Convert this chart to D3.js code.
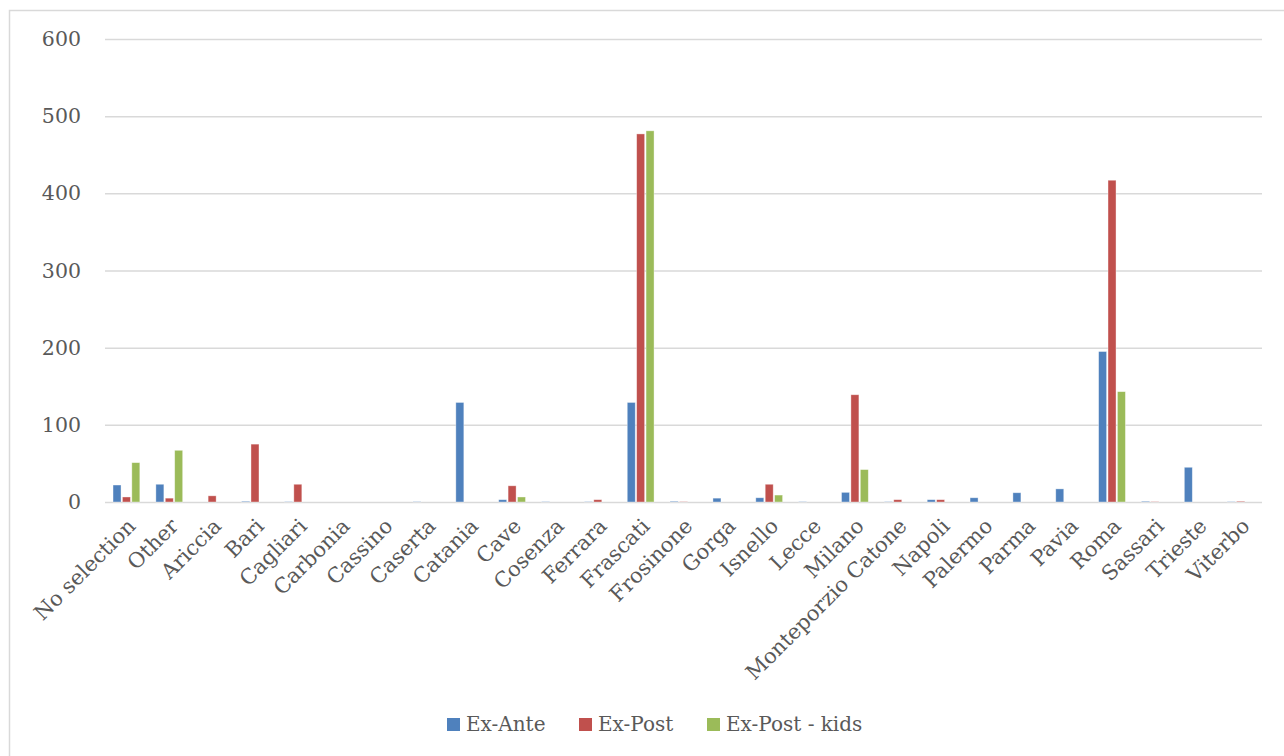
<!DOCTYPE html>
<html>
<head>
<meta charset="utf-8">
<script src="https://cdn.jsdelivr.net/npm/d3@7"></script>
<style>
  html, body { margin: 0; padding: 0; background: #fff; }
  svg { display: block; }
</style>
</head>
<body>
<svg id="chart" width="1284" height="756"></svg>
<script>
const categories = ["No selection","Other","Ariccia","Bari","Cagliari","Carbonia","Cassino","Caserta","Catania","Cave","Cosenza","Ferrara","Frascati","Frosinone","Gorga","Isnello","Lecce","Milano","Monteporzio Catone","Napoli","Palermo","Parma","Pavia","Roma","Sassari","Trieste","Viterbo"];
const seriesNames = ["Ex-Ante","Ex-Post","Ex-Post - kids"];
const exAnte     = [22, 23, 0, 1, 0.5, 0, 0, 0.5, 129, 3, 0.5, 0.5, 129, 1, 5, 5.5, 0.5, 12.5, 0.5, 3, 5.5, 12, 17, 195, 1, 45, 0.5];
const exPost     = [6.5, 5, 8, 75, 23, 0, 0, 0, 0, 21, 0, 3, 477, 0.5, 0, 23, 0, 139, 3, 3, 0, 0, 0, 417, 0.5, 0, 1];
const exPostKids = [51, 67, 0, 0, 0, 0, 0, 0, 0, 6.5, 0, 0, 481, 0, 0, 9, 0, 42, 0, 0, 0, 0, 0, 143, 0, 0, 0];
const yTicks = [0, 100, 200, 300, 400, 500, 600];
const colors = ["#4f81bd", "#c0504d", "#9bbb59"];

(function () {
const series = [exAnte, exPost, exPostKids];
const svg = d3.select("#chart");
const font = "DejaVu Serif";
const textColor = "#595959";

// outer frame
svg.append("path")
  .attr("d", "M9.5,760 L9.5,10.5 L1290,10.5")
  .attr("fill", "none").attr("stroke", "#d9d9d9").attr("stroke-width", 1.5);

const mLeft = 105, mRight = 1262, mTop = 39, mBottom = 502;
const x = d3.scaleBand().domain(categories).range([mLeft, mRight]).paddingInner(0).paddingOuter(0);
const y = d3.scaleLinear().domain([0, 600]).range([mBottom, mTop]);

const step = 9.4, bw = 8;
const xs = d3.scaleBand().domain(seriesNames).range([-step*1.5, step*1.5]);

// gridlines
const yAxis = d3.axisLeft(y).tickValues(yTicks).tickSize(-(mRight - mLeft)).tickPadding(24);
const gy = svg.append("g").attr("transform", `translate(${mLeft},0)`).call(yAxis);
gy.select(".domain").remove();
gy.selectAll(".tick line").attr("stroke", "#d9d9d9").attr("stroke-width", 1.5);
gy.selectAll(".tick text").attr("fill", textColor).style("font-family", font).style("font-size", "20.5px");

// bars
series.forEach((vals, si) => {
  svg.append("g").selectAll("rect").data(vals).join("rect")
    .attr("x", (d, i) => x(categories[i]) + x.bandwidth()/2 + xs(seriesNames[si]) + (step - bw)/2)
    .attr("width", bw)
    .attr("y", d => y(d))
    .attr("height", d => y(0) - y(d))
    .attr("fill", colors[si])
    .attr("stroke", "#ffffff").attr("stroke-opacity", 0.5).attr("stroke-width", 0.75);
});

// x axis labels
const xAxis = d3.axisBottom(x).tickSize(0).tickPadding(0);
const gx = svg.append("g").attr("transform", `translate(0,${mBottom})`).call(xAxis);
gx.select(".domain").remove();
gx.selectAll(".tick text")
  .attr("fill", textColor).style("font-family", font).style("font-size", "21px")
  .attr("text-anchor", "end")
  .attr("transform", "translate(0,15) rotate(-45)")
  .attr("dy", "0.7em").attr("y", 0).attr("x", 0);

// legend
const legendItems = [
  {name: seriesNames[0], sx: 447, tx: 466},
  {name: seriesNames[1], sx: 579, tx: 598},
  {name: seriesNames[2], sx: 707, tx: 726}
];
const lg = svg.append("g");
legendItems.forEach((it, i) => {
  lg.append("rect").attr("x", it.sx).attr("y", 718).attr("width", 13).attr("height", 13).attr("fill", colors[i]);
  lg.append("text").attr("x", it.tx).attr("y", 731).text(it.name)
    .attr("fill", textColor).style("font-family", font).style("font-size", "20px");
});
})();
</script>
</body>
</html>
